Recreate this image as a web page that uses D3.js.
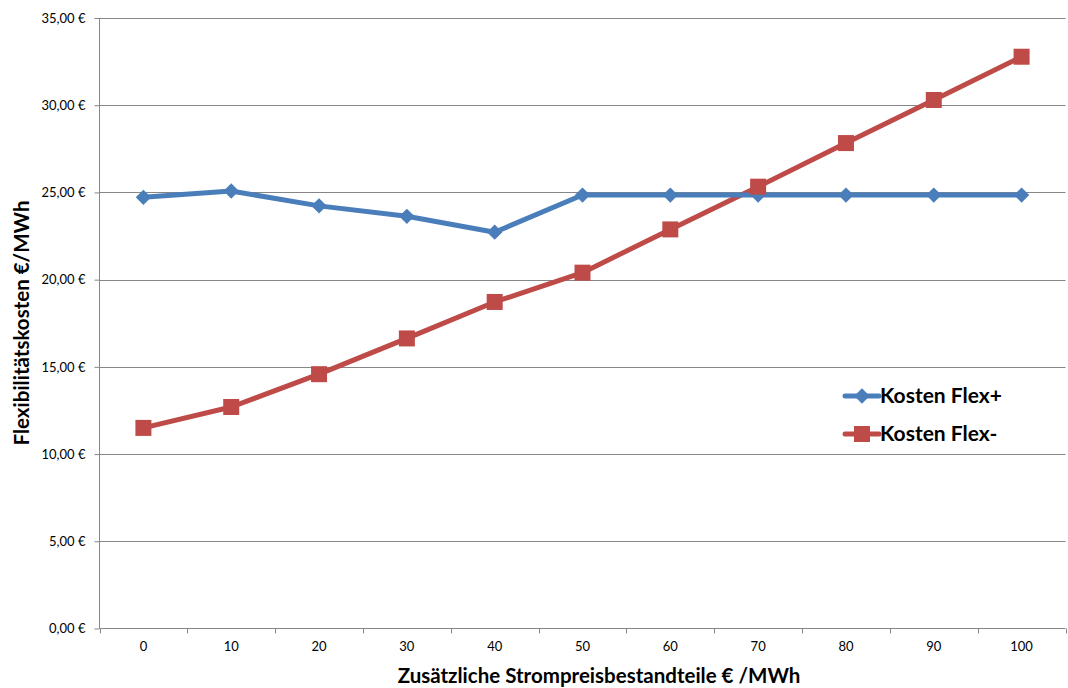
<!DOCTYPE html>
<html><head><meta charset="utf-8">
<script src="https://cdn.jsdelivr.net/npm/d3@7"></script>
<style>body{margin:0;background:#fff}svg{display:block}text{font-family:Lato,"Open Sans",sans-serif}</style>
</head><body><svg id="c" width="1068" height="688"></svg>
<script>
const categories = [0,10,20,30,40,50,60,70,80,90,100];
const flexPlus  = [24.72,25.08,24.23,23.63,22.72,24.85,24.85,24.85,24.85,24.85,24.85];
const flexMinus = [11.50,12.70,14.58,16.63,18.72,20.40,22.88,25.33,27.83,30.30,32.78];
const yTicks = [0,5,10,15,20,25,30,35];
const seriesNames = ["Kosten Flex+","Kosten Flex-"];
const colors = ["#4a7ebb","#be4b48"];

const svg = d3.select("#c");
const L=99.5, R=1065.5, T=18, B=628.5;
const x = d3.scaleBand().domain(categories).range([L,R]);
const y = d3.scaleLinear().domain([0,35]).range([B,T]);
const fmt = v => d3.format(".2f")(v).replace(".",",") + " €";

// gridlines
svg.append("g").selectAll("line").data(yTicks.filter(d=>d>0)).join("line")
  .attr("x1",L).attr("x2",R).attr("y1",d=>Math.round(y(d))+0.5).attr("y2",d=>Math.round(y(d))+0.5)
  .attr("stroke","#868686").attr("stroke-width",1);

// y axis
const ya = svg.append("g").attr("transform",`translate(${L},0)`)
  .call(d3.axisLeft(y).tickValues(yTicks).tickFormat(fmt).tickSize(5).tickPadding(9));
ya.select(".domain").attr("stroke","#868686").attr("d",`M0,${T}V${B}`);
ya.selectAll(".tick line").attr("stroke","#868686");
ya.selectAll("text").attr("font-size",13).attr("fill","#000").style("font-family","Lato,sans-serif");

// x axis
const xa = svg.append("g").attr("transform",`translate(0,${B})`)
  .call(d3.axisBottom(x).tickSize(0).tickPadding(13));
xa.select(".domain").attr("stroke","#868686").attr("d",`M${L},0H${R}`);
xa.selectAll("text").attr("font-size",13).attr("fill","#000").style("font-family","Lato,sans-serif");
const bounds = categories.map(c=>x(c)).concat([R]);
xa.selectAll(".bt").data(bounds).join("line").attr("class","bt")
  .attr("x1",d=>Math.round(d)+0.5).attr("x2",d=>Math.round(d)+0.5).attr("y1",0).attr("y2",5)
  .attr("stroke","#868686");

const cx = d => x(d)+x.bandwidth()/2;
const line = d3.line().x((d,i)=>cx(categories[i])).y(d=>y(d));

[flexMinus, flexPlus].forEach((s,k)=>{
  const idx = k===0?1:0;
  svg.append("path").datum(s).attr("d",line).attr("fill","none")
    .attr("stroke",colors[idx]).attr("stroke-width",5).attr("stroke-linejoin","round");
});
// markers: plus diamonds, minus squares
const diamond = d3.symbol(d3.symbolDiamond2,150)();
svg.append("g").selectAll("path").data(flexPlus).join("path")
  .attr("d",diamond)
  .attr("transform",(d,i)=>`translate(${cx(categories[i])},${y(d)})`)
  .attr("fill",colors[0]);
svg.append("g").selectAll("rect").data(flexMinus).join("rect")
  .attr("x",(d,i)=>cx(categories[i])-8).attr("y",d=>y(d)-8).attr("width",16).attr("height",16)
  .attr("fill",colors[1]);

// legend
const lg = svg.append("g");
seriesNames.forEach((n,i)=>{
  const ly = 396 + i*38;
  lg.append("line").attr("x1",845).attr("x2",879).attr("y1",ly).attr("y2",ly)
    .attr("stroke",colors[i]).attr("stroke-width",5).attr("stroke-linecap","round");
  if(i===0){
    lg.append("path").attr("d",diamond)
      .attr("transform",`translate(862,${ly})`).attr("fill",colors[0]);
  } else {
    lg.append("rect").attr("x",854).attr("y",ly-8).attr("width",16).attr("height",16).attr("fill",colors[1]);
  }
  lg.append("text").attr("x",880).attr("y",ly).attr("dy","0.35em")
    .attr("font-size",21).attr("font-weight","bold").text(n);
});

// axis titles
svg.append("text").attr("x",599).attr("y",676).attr("dy","0.35em").attr("text-anchor","middle")
  .attr("font-size",20.5).attr("font-weight","bold").text("Zusätzliche Strompreisbestandteile € /MWh");
svg.append("text").attr("transform","translate(22,323) rotate(-90)").attr("dy","0.35em").attr("text-anchor","middle")
  .attr("font-size",20.5).attr("font-weight","bold").text("Flexibilitätskosten €/MWh");
</script></body></html>
